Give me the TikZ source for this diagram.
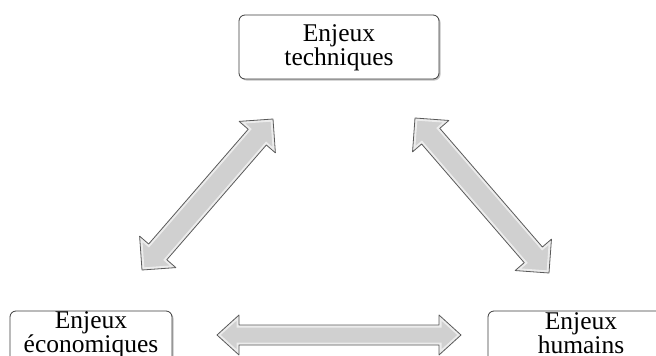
\documentclass[tikz,border=0pt]{standalone}
\usepackage{fontspec}
\setmainfont{Liberation Serif}
\usetikzlibrary{calc,shadows}

\definecolor{arrowfill}{HTML}{D0D0D0}
\definecolor{arrowline}{HTML}{5A5A5A}
\definecolor{boxline}{HTML}{3C3C3C}

\tikzset{
  issue/.style={draw=boxline, line width=0.8pt, rounded corners=6pt, fill=white,
    inner sep=0pt,
    drop shadow={shadow xshift=1.5pt, shadow yshift=-1.5pt, fill=black!40, opacity=.6}},
  topfont/.style={align=center, inner sep=0pt, font=\fontsize{25.5}{24}\selectfont},
  lowfont/.style={align=center, inner sep=0pt, font=\fontsize{25.5}{20}\selectfont},
  blockarrow/.style={draw=arrowline, line width=0.8pt, line join=round},
  bevel/.style={draw=white, line width=5pt, opacity=.6},
}

% Outline of a double block arrow between two tip coordinates:
% #1,#2 tips; #3 shaft half-width; #4 head half-width; #5 head length
\newcommand\dblarrowpath[5]{%
  (#1)
    -- ($(#1-base)!#4!90:(#2)$) -- ($(#1-base)!#3!90:(#2)$)
    -- ($(#2-base)!#3!-90:(#1)$) -- ($(#2-base)!#4!-90:(#1)$)
    -- (#2)
    -- ($(#2-base)!#4!90:(#1)$) -- ($(#2-base)!#3!90:(#1)$)
    -- ($(#1-base)!#3!-90:(#2)$) -- ($(#1-base)!#4!-90:(#2)$) -- cycle}

% Shaded double block arrow
\newcommand\dblarrow[5]{%
  \coordinate (#1-base) at ($(#1)!#5!(#2)$);
  \coordinate (#2-base) at ($(#2)!#5!(#1)$);
  \begin{scope}
    \clip \dblarrowpath{#1}{#2}{#3}{#4}{#5};
    \fill[arrowfill] \dblarrowpath{#1}{#2}{#3}{#4}{#5};
    \draw[bevel] \dblarrowpath{#1}{#2}{#3}{#4}{#5};
  \end{scope}
  \draw[blockarrow] \dblarrowpath{#1}{#2}{#3}{#4}{#5};
}

\begin{document}
\begin{tikzpicture}[x=1pt, y=-1pt]
  \path[use as bounding box, clip] (0,0) rectangle (656,356);

  % the three issues
  \node[issue, minimum width=200pt, minimum height=64pt] (tech) at (339,47) {};
  \node[topfont] (tech-text) at (339,48) {Enjeux\\techniques};

  \node[issue, minimum width=162pt, minimum height=56pt] (eco) at (91,339) {};
  \node[lowfont] (eco-text) at (91,335) {Enjeux\\économiques};

  \node[issue, minimum width=186pt, minimum height=56pt] (hum) at (581,339) {};
  \node[lowfont] (hum-text) at (581,333) {Enjeux\\humains};

  % arrow tips
  \coordinate (eco-t) at (142,270);
  \coordinate (tech-e) at (273,119);
  \coordinate (tech-h) at (415,118);
  \coordinate (hum-t) at (549,273);
  \coordinate (eco-h) at (217,335);
  \coordinate (hum-e) at (461,335);

  % links between the issues
  \dblarrow{eco-t}{tech-e}{12pt}{24pt}{24pt}
  \dblarrow{tech-h}{hum-t}{12pt}{24pt}{24pt}
  \dblarrow{eco-h}{hum-e}{10pt}{20pt}{22pt}
\end{tikzpicture}
\end{document}
